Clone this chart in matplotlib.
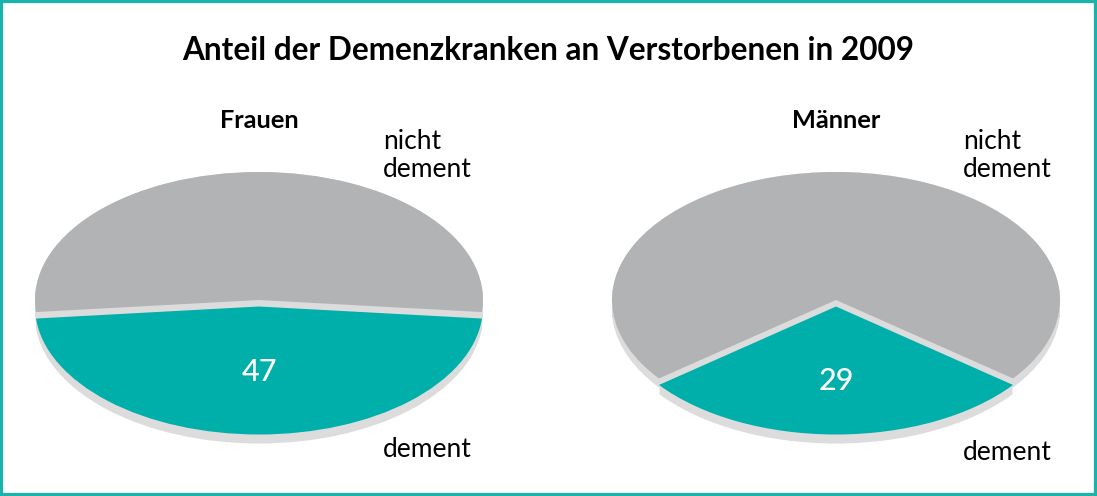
import matplotlib
matplotlib.use("Agg")
import matplotlib.pyplot as plt
from matplotlib.patches import Rectangle
from matplotlib.transforms import Affine2D

plt.rcParams['font.family'] = ['Lato', 'DejaVu Sans']

title = "Anteil der Demenzkranken an Verstorbenen in 2009"
groups = ["Frauen", "Männer"]
dement = [47, 29]
labels = ["dement", "nicht\ndement"]

teal = "#00aeaa"
grey = "#b2b3b5"
side = "#dcdcdc"

W, H = 1097, 496
fig = plt.figure(figsize=(W / 100, H / 100), dpi=100)
ax = fig.add_axes([0, 0, 1, 1])

centers_x = [259, 836]
cy = H - 300
rx = 224
k = 128 / 224
depth = 9
gap = 6.5 / k  # explode distance (data units, before tilt)


def tilt(cx, dy):
    return Affine2D().translate(-cx, -cy).scale(1, k).translate(cx, cy - dy) + ax.transData


for i, g in enumerate(groups):
    cx = centers_x[i]
    vals = [dement[i], 100 - dement[i]]
    start = 270 - dement[i] / 100 * 360 / 2
    # side / thickness
    for d in range(0, depth + 1):
        wedges, _ = ax.pie(vals, colors=[side, side], startangle=start, explode=[gap, 0],
                           center=(cx, cy), radius=rx, frame=True,
                           wedgeprops=dict(linewidth=0))
        for w in wedges:
            w.set_transform(tilt(cx, d))
            w.set_zorder(1)
    # top face
    wedges, _ = ax.pie(vals, colors=[teal, grey], startangle=start, explode=[gap, 0],
                       center=(cx, cy), radius=rx, frame=True,
                       wedgeprops=dict(linewidth=0))
    for w in wedges:
        w.set_transform(tilt(cx, 0))
        w.set_zorder(2)

    ax.text(cx, H - 128, g, ha='center', va='baseline', fontsize=18.3, fontweight='bold')
    ax.text(cx, H - (381 if i == 0 else 390), str(dement[i]), ha='center', va='baseline',
            fontsize=22, color='white', fontweight='medium', zorder=3)
    ax.text(cx + 124 + 3 * i, H - 177, labels[1], ha='left', va='baseline', fontsize=19,
            linespacing=1.15)
    ax.text(cx + 124 + 3 * i, H - (457 if i == 0 else 460), labels[0], ha='left',
            va='baseline', fontsize=19)

ax.text(W / 2, H - 60, title, ha='center', va='baseline', fontsize=22.7, fontweight='bold')

ax.set_xlim(0, W)
ax.set_ylim(0, H)
ax.set_aspect('auto')
ax.axis('off')

fig.patches.append(Rectangle((0, 0), 1, 1, transform=fig.transFigure, fill=False,
                             edgecolor="#1ab3ac", linewidth=4.5))

fig.savefig("out.png", dpi=100)
